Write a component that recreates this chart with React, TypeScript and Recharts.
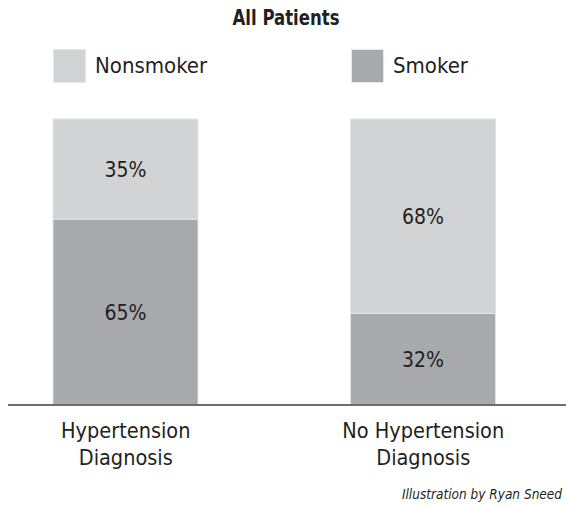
import React from 'react';
import { BarChart, Bar, XAxis, YAxis, LabelList, Legend } from 'recharts';

const categories = ['Hypertension\nDiagnosis', 'No Hypertension\nDiagnosis'];
const smokerValues = [65, 32];
const nonsmokerValues = [35, 68];
const seriesNames = ['Nonsmoker', 'Smoker'];
const title = 'All Patients';
const credit = 'Illustration by Ryan Sneed';

const data = categories.map((name, i) => ({
  name,
  Smoker: smokerValues[i],
  Nonsmoker: nonsmokerValues[i],
}));

const FONT = '"Liberation Sans Narrow", "DejaVu Sans Condensed", "Roboto Condensed", Arial, sans-serif';
const colors: Record<string, string> = { Nonsmoker: '#d1d3d4', Smoker: '#a7a9ac' };
const TEXT = '#231f20';

const CategoryTick = (props: any) => {
  const { x, y, payload } = props;
  const lines = String(payload.value).split('\n');
  return (
    <text x={x} y={y} textAnchor="middle" fill={TEXT} fontFamily={FONT} fontSize={21.5}>
      {lines.map((l, i) => (
        <tspan key={i} x={x} y={y + 25 + i * 27}>{l}</tspan>
      ))}
    </text>
  );
};

const legendX = [53, 351];

const LegendContent = () => (
  <div style={{ position: 'relative', width: 566, height: 100 }}>
    {seriesNames.map((n, i) => (
      <div key={n}>
        <div
          style={{
            position: 'absolute', left: legendX[i], top: 49, width: 33, height: 34,
            background: colors[n], border: '1px solid #e6e7e8', boxSizing: 'border-box',
          }}
        />
        <div
          style={{
            position: 'absolute', left: legendX[i] + 42, top: 52, fontFamily: FONT,
            fontSize: 22, lineHeight: '28px', color: TEXT, whiteSpace: 'nowrap',
          }}
        >
          {n}
        </div>
      </div>
    ))}
  </div>
);

export default function App() {
  return (
    <div style={{ position: 'absolute', left: 0, top: 0, width: 566, height: 506, overflow: 'hidden', background: '#fff' }}>
      <BarChart width={566} height={506} data={data} margin={{ top: 19, right: 0, bottom: 71, left: 8 }}>
        <text x={286} y={25} textAnchor="middle" fontFamily={FONT} fontWeight="bold" fontSize={22} fill={TEXT} textLength={107} lengthAdjust="spacingAndGlyphs">{title}</text>
        <text x={562} y={499} textAnchor="end" fontFamily={FONT} fontStyle="italic" fontSize={13.5} fill={TEXT}>{credit}</text>
        <YAxis hide domain={[0, 100]} />
        <XAxis
          dataKey="name"
          padding={{ left: -31, right: -6 }}
          axisLine={{ stroke: '#6d6e71', strokeWidth: 2 }}
          tickLine={false}
          tick={<CategoryTick />}
          interval={0}
        />
        <Legend
          verticalAlign="top"
          content={<LegendContent />}
          wrapperStyle={{ position: 'absolute', left: 0, top: 0, width: 566, height: 100 }}
        />
        <Bar dataKey="Smoker" stackId="a" fill={colors.Smoker} stroke="#e3e4e5" strokeWidth={1} barSize={145} isAnimationActive={false}>
          <LabelList dataKey="Smoker" position="center" formatter={(v: any) => `${v}%`} fill={TEXT} fontFamily={FONT} fontSize={21} />
        </Bar>
        <Bar dataKey="Nonsmoker" stackId="a" fill={colors.Nonsmoker} stroke="#e3e4e5" strokeWidth={1} barSize={145} isAnimationActive={false}>
          <LabelList dataKey="Nonsmoker" position="center" formatter={(v: any) => `${v}%`} fill={TEXT} fontFamily={FONT} fontSize={21} />
        </Bar>
      </BarChart>
    </div>
  );
}
